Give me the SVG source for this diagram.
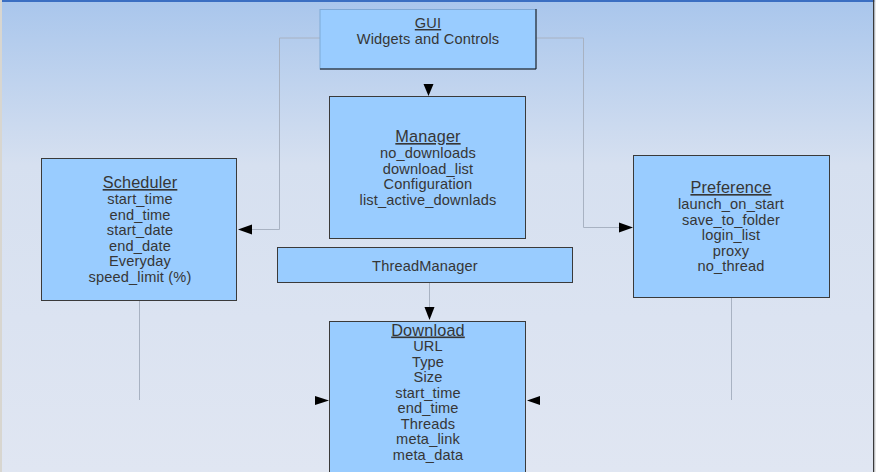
<svg xmlns="http://www.w3.org/2000/svg" width="876" height="472" viewBox="0 0 876 472">
<defs>
<linearGradient id="bg" x1="0" y1="0" x2="0" y2="1">
<stop offset="0" stop-color="#a9c6ec"/>
<stop offset="0.35" stop-color="#d6e0f0"/>
<stop offset="1" stop-color="#e0e6f2"/>
</linearGradient>
</defs>
<style>
.box{fill:#99ccff;stroke:#3a3a3a;stroke-width:1}
.sh{fill:none;stroke:#111;stroke-width:1}
.t{font-family:"Liberation Sans",Arial,sans-serif;font-size:14.6px;letter-spacing:0.15px;fill:#363636;text-anchor:middle}
.h{font-size:16.3px}
.u{text-decoration:underline}
.c{fill:none;stroke:#a8b2c2;stroke-width:1}
.ar{fill:#000}
</style>
<rect x="0" y="0" width="876" height="472" fill="url(#bg)"/>
<rect x="0" y="0" width="876" height="2" fill="#3b6fc2"/>
<rect x="0" y="0" width="2" height="472" fill="#d8d6d0"/>
<rect x="873" y="0" width="1.5" height="472" fill="#3a3a3a"/>
<rect x="874.5" y="0" width="1.5" height="472" fill="#e8e8e8"/>

<g id="connectors">
<polyline class="c" points="320,38 279.5,38 279.5,229.5 252,229.5"/>
<polygon class="ar" points="238,229.5 252,224.5 252,234.5"/>
<polyline class="c" points="536,38 583.5,38 583.5,227.5 619,227.5"/>
<polygon class="ar" points="633,227.5 619,222.5 619,232.5"/>
<polygon class="ar" points="428.5,96 423.5,84 433.5,84"/>
<line class="c" x1="429.5" y1="283" x2="429.5" y2="308"/>
<polygon class="ar" points="429.5,320 424.5,307 434.5,307"/>
<line class="c" x1="139.5" y1="301" x2="139.5" y2="400"/>
<line class="c" x1="731.5" y1="298" x2="731.5" y2="400"/>
<polygon class="ar" points="329,400.5 315,396 315,405"/>
<polygon class="ar" points="527,400.5 540,396 540,405"/>
</g>

<g id="gui">
<rect x="320" y="9.5" width="216" height="59.5" fill="#99ccff" stroke="#7fa9d6" stroke-width="1"/>
<polyline class="sh" points="536,9 536,69 320,69"/>
<text class="t u" x="428" y="28">GUI</text>
<text class="t" x="428" y="43.5">Widgets and Controls</text>
</g>

<g id="manager">
<rect class="box" x="329.5" y="96.5" width="196" height="142"/>
<text class="t h u" x="428" y="142">Manager</text>
<text class="t" x="428" y="158">no_downloads</text>
<text class="t" x="428" y="173.5">download_list</text>
<text class="t" x="428" y="189">Configuration</text>
<text class="t" x="428" y="204.5">list_active_downlads</text>
</g>

<g id="scheduler">
<rect class="box" x="41.5" y="158.5" width="195" height="142"/>
<text class="t h u" x="140" y="188">Scheduler</text>
<text class="t" x="140" y="204">start_time</text>
<text class="t" x="140" y="219.5">end_time</text>
<text class="t" x="140" y="235">start_date</text>
<text class="t" x="140" y="250.5">end_date</text>
<text class="t" x="140" y="266">Everyday</text>
<text class="t" x="140" y="281.5">speed_limit (%)</text>
</g>

<g id="preference">
<rect class="box" x="633.5" y="155.5" width="196" height="142"/>
<text class="t h u" x="731" y="193">Preference</text>
<text class="t" x="731" y="209">launch_on_start</text>
<text class="t" x="731" y="224.5">save_to_folder</text>
<text class="t" x="731" y="240">login_list</text>
<text class="t" x="731" y="255.5">proxy</text>
<text class="t" x="731" y="271">no_thread</text>
</g>

<g id="threadmanager">
<rect class="box" x="277.5" y="247.5" width="295" height="35"/>
<text class="t" x="425" y="270.5">ThreadManager</text>
</g>

<g id="download">
<rect class="box" x="329.5" y="321.5" width="196" height="160"/>
<text class="t h u" x="428" y="335.5">Download</text>
<text class="t" x="428" y="351">URL</text>
<text class="t" x="428" y="366.5">Type</text>
<text class="t" x="428" y="382">Size</text>
<text class="t" x="428" y="397.5">start_time</text>
<text class="t" x="428" y="413">end_time</text>
<text class="t" x="428" y="428.5">Threads</text>
<text class="t" x="428" y="444">meta_link</text>
<text class="t" x="428" y="459.5">meta_data</text>
</g>
</svg>
